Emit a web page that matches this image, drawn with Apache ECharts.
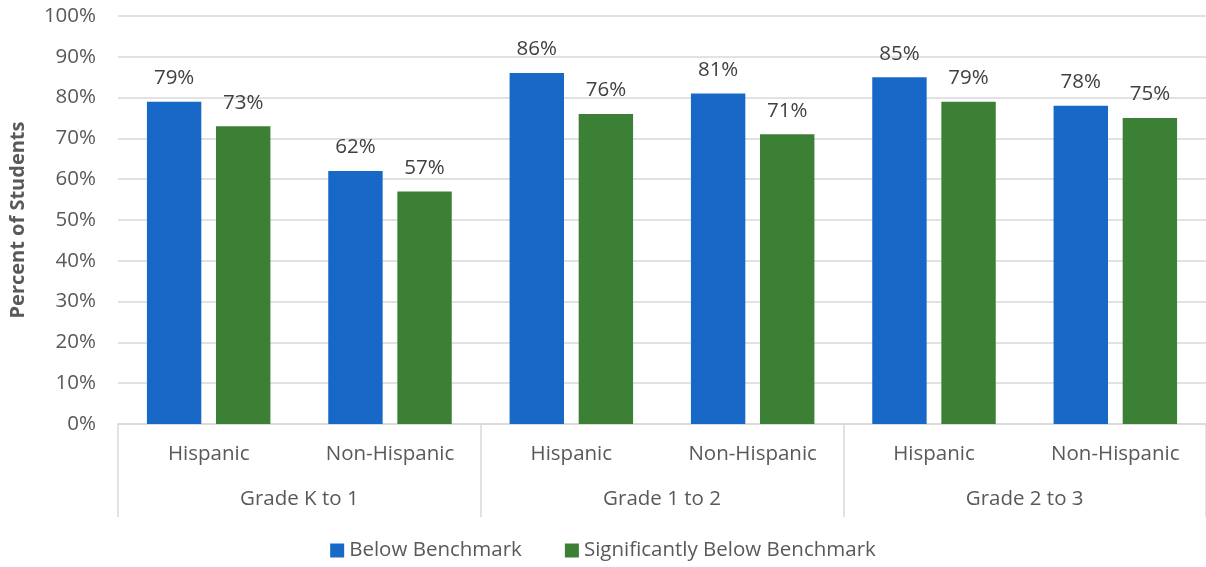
<!DOCTYPE html>
<html>
<head>
<meta charset="utf-8">
<script src="https://cdn.jsdelivr.net/npm/echarts@6/dist/echarts.min.js"></script>
<style>
  html, body { margin: 0; padding: 0; background: #fff; }
  #chart { width: 1206px; height: 567px; }
</style>
</head>
<body>
<div id="chart"></div>
<script>
// Sub-categories (ethnicity) within each grade transition
const subCategories = ['Hispanic', 'Non-Hispanic', 'Hispanic', 'Non-Hispanic', 'Hispanic', 'Non-Hispanic'];
const groupCategories = ['Grade K to 1', 'Grade 1 to 2', 'Grade 2 to 3'];
const belowBenchmark = [79, 62, 86, 81, 85, 78];
const sigBelowBenchmark = [73, 57, 76, 71, 79, 75];
const seriesNames = ['Below Benchmark', 'Significantly Below Benchmark'];

const FONT = '"Open Sans", "Noto Sans", sans-serif';
const TEXT = '#595959';
const LINE = '#d9d9d9';
const FS = 20.5;

const chart = echarts.init(document.getElementById('chart'));

const labelStyle = {
  show: true,
  position: 'top',
  distance: 13,
  formatter: p => p.value + '%',
  color: '#404040',
  fontFamily: FONT,
  fontSize: FS
};

chart.setOption({
  animation: false,
  grid: { left: 118, right: 0, top: 16, bottom: 143, containLabel: false, outerBoundsMode: 'none' },
  legend: {
    bottom: 1,
    left: 'center',
    itemWidth: 14,
    itemHeight: 14,
    itemGap: 43,
    icon: 'rect',
    textStyle: { color: TEXT, fontFamily: FONT, fontSize: FS },
    data: seriesNames
  },
  xAxis: [
    {
      type: 'category',
      data: subCategories,
      position: 'bottom',
      axisLine: { show: true, lineStyle: { color: LINE, width: 1.5 } },
      axisTick: { show: false },
      axisLabel: { color: TEXT, fontFamily: FONT, fontSize: FS, margin: 20 }
    },
    {
      type: 'category',
      data: groupCategories,
      position: 'bottom',
      axisLine: { show: false },
      axisTick: { show: true, length: 93, lineStyle: { color: LINE, width: 1.5 } },
      axisLabel: { color: TEXT, fontFamily: FONT, fontSize: FS, margin: 65 }
    }
  ],
  yAxis: {
    type: 'value',
    min: 0,
    max: 100,
    interval: 10,
    name: 'Percent of Students',
    nameLocation: 'middle',
    nameGap: 90,
    nameTextStyle: { color: TEXT, fontFamily: FONT, fontSize: 20, fontWeight: 'bold' },
    axisLine: { show: false },
    axisTick: { show: false },
    axisLabel: { formatter: '{value}%', color: TEXT, fontFamily: FONT, fontSize: FS, margin: 22 },
    splitLine: { lineStyle: { color: LINE, width: 1.5 } }
  },
  series: [
    {
      name: seriesNames[0],
      type: 'bar',
      xAxisIndex: 0,
      data: belowBenchmark,
      barWidth: '30%',
      barGap: '27%',
      itemStyle: { color: '#1868C8' },
      label: labelStyle
    },
    {
      name: seriesNames[1],
      type: 'bar',
      xAxisIndex: 0,
      data: sigBelowBenchmark,
      barWidth: '30%',
      itemStyle: { color: '#3B8035' },
      label: labelStyle
    }
  ]
});
</script>
</body>
</html>
